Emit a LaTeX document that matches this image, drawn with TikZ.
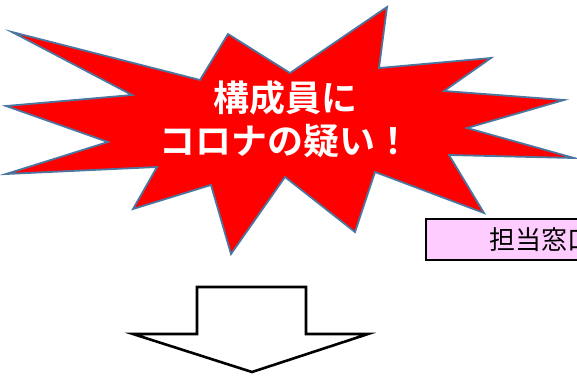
\documentclass[tikz,border=0pt]{standalone}
\usepackage{fontspec}
\newfontfamily\cjk{Noto Sans CJK JP}[BoldFont={Noto Sans CJK JP Bold}]
\definecolor{starred}{HTML}{FF0000}
\definecolor{staredge}{HTML}{4A76A0}
\definecolor{boxpink}{HTML}{FFCCFF}
\begin{document}
\begin{tikzpicture}[x=1pt, y=-1pt, line join=miter,
	star/.style={fill=starred, draw=staredge, line width=1.8pt},
	callout/.style={font=\cjk\bfseries\fontsize{36}{43}\selectfont, text=white, align=center},
	deskbox/.style={fill=boxpink, draw=black, line width=1.6pt, minimum height=41pt, minimum width=200pt, anchor=north west, inner sep=0pt},
	deskfont/.style={font=\cjk\fontsize{26}{26}\selectfont},
	downarrow/.style={fill=white, draw=black, line width=2.6pt}]
	\useasboundingbox (0,0) rectangle (577,376);
	\clip (0,0) rectangle (577,376);
	% explosion
	\draw[star] (12,32)--(200,80)--(228,34)--(290,73)--(387,7)--(379,68)--(491,58)--(444,91)
		--(564,100)--(467,128)--(574,158)--(449,155)--(484,213)--(375,172)--(355,232)--(285,177)
		--(231,254)--(211,185)--(133,209)--(157,167)--(6,174)--(108,142)--(6,106)--(132,95)--cycle;
	\node[callout] (alarm) at (285,119) {構成員に\\コロナの疑い！};
	% contact desk
	\node[deskbox] (desk) at (425,218) {};
	\node[deskfont, anchor=west, inner sep=0pt] (desklabel) at (489,240) {担当窓口};
	% block arrow
	\draw[downarrow] (197,287)--(306,287)--(306,334)--(368,334)--(252,372)--(133,334)--(197,334)--cycle;
\end{tikzpicture}
\end{document}
